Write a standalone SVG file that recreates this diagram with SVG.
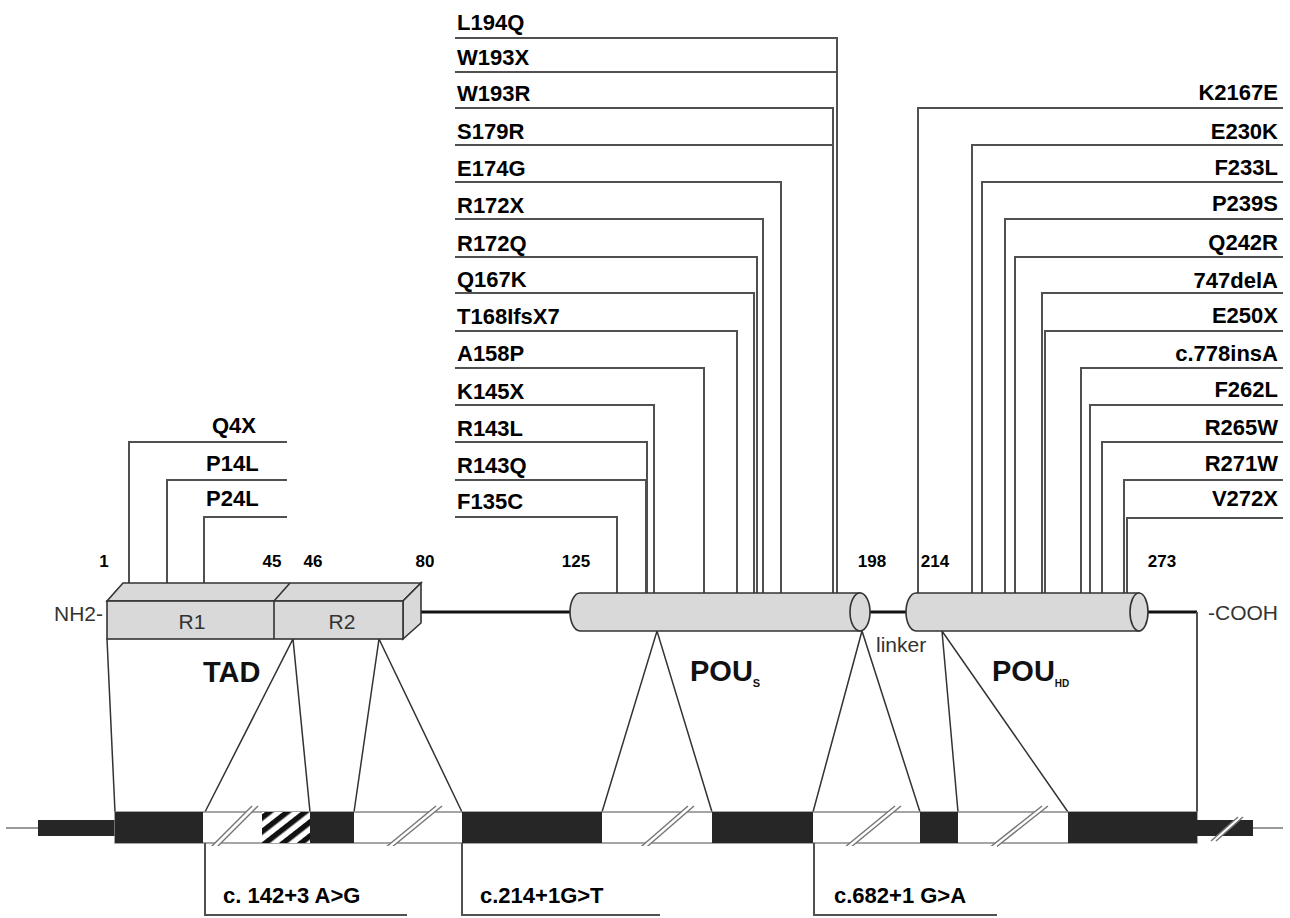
<svg xmlns="http://www.w3.org/2000/svg" width="1290" height="918" viewBox="0 0 1290 918">
<defs>
<style>
.lbl{font-family:"Liberation Sans",Arial,sans-serif;font-weight:bold;font-size:22px;fill:#000}
.num{font-family:"Liberation Sans",Arial,sans-serif;font-weight:bold;font-size:17px;fill:#000}
.dom{font-family:"Liberation Sans",Arial,sans-serif;font-size:21px;fill:#333}
.big{font-family:"Liberation Sans",Arial,sans-serif;font-weight:bold;font-size:29px;fill:#111}
.conn{stroke:#505050;stroke-width:2;fill:none}
.map{stroke:#333;stroke-width:1.5;fill:none}
.shape{fill:#d9d9d9;stroke:#333;stroke-width:1.6}
.exon{fill:#262626}
.sl{stroke:#777;stroke-width:1.5}
.axis{stroke:#111;stroke-width:3;fill:none}
</style>
<pattern id="hatch" patternUnits="userSpaceOnUse" width="11" height="11" patternTransform="rotate(-38)">
<rect width="11" height="11" fill="#fff"/>
<rect width="11" height="5.5" fill="#111"/>
</pattern>
</defs>
<rect width="1290" height="918" fill="#fff"/>

<g id="connectors">
<!-- left group -->
<path class="conn" d="M287,442 H129 V592"/>
<path class="conn" d="M287,480 H167 V590"/>
<path class="conn" d="M287,517 H204 V590"/>
<!-- middle group -->
<path class="conn" d="M455,38 H837 V593"/>
<path class="conn" d="M455,72 H837 V593"/>
<path class="conn" d="M455,108 H833 V593"/>
<path class="conn" d="M455,145 H833 V593"/>
<path class="conn" d="M455,182 H781 V593"/>
<path class="conn" d="M455,219 H763 V593"/>
<path class="conn" d="M455,257 H757 V593"/>
<path class="conn" d="M455,293 H754 V593"/>
<path class="conn" d="M455,331 H737 V593"/>
<path class="conn" d="M455,368 H704 V593"/>
<path class="conn" d="M455,405 H654 V593"/>
<path class="conn" d="M455,442 H647 V593"/>
<path class="conn" d="M455,480 H646 V593"/>
<path class="conn" d="M455,517 H617 V593"/>
<!-- right group -->
<path class="conn" d="M1283,108 H918 V593"/>
<path class="conn" d="M1283,145 H972 V593"/>
<path class="conn" d="M1283,182 H982 V593"/>
<path class="conn" d="M1283,219 H1005 V593"/>
<path class="conn" d="M1283,257 H1015 V593"/>
<path class="conn" d="M1283,293 H1042 V593"/>
<path class="conn" d="M1283,331 H1045 V593"/>
<path class="conn" d="M1283,368 H1081 V593"/>
<path class="conn" d="M1283,405 H1090 V593"/>
<path class="conn" d="M1283,442 H1102 V593"/>
<path class="conn" d="M1283,480 H1124 V593"/>
<path class="conn" d="M1283,518 H1127 V593"/>
<!-- backbone -->
<path class="axis" d="M412,612 H574"/>
<path class="axis" d="M862,612 H908"/>
<path class="axis" d="M1141,612 H1197"/>
<path class="conn" d="M1197,612 V812"/>
<!-- mapping to gene -->
<path class="map" d="M107,639 L115,812"/>
<path class="map" d="M205,812 L293,639 L310,812"/>
<path class="map" d="M354,812 L379,639 L462,812"/>
<path class="map" d="M602,812 L657,631 L712,812"/>
<path class="map" d="M813,812 L862,631 L920,812"/>
<path class="map" d="M958,812 L942,631 L1068,812"/>
</g>

<g id="tad-domain">
<polygon class="shape" points="107,601 123,583 421,583 403,601"/>
<polygon class="shape" points="403,601 421,583 421,623 403,639"/>
<rect class="shape" x="107" y="601" width="296" height="38"/>
<line x1="274" y1="601" x2="274" y2="639" stroke="#333" stroke-width="1.6"/>
<line x1="274" y1="601" x2="290" y2="583" stroke="#333" stroke-width="1.6"/>
<text class="dom" x="192" y="629" text-anchor="middle">R1</text>
<text class="dom" x="342" y="629" text-anchor="middle">R2</text>
<text class="big" x="203" y="682">TAD</text>
</g>

<g id="pous-domain">
<path class="shape" d="M860,593 H580 A10,19 0 0 0 580,631 H860 Z"/>
<ellipse class="shape" cx="860" cy="612" rx="10" ry="19"/>
<text class="big" x="690" y="681">POU<tspan font-size="11" dy="6">S</tspan></text>
</g>

<g id="pouhd-domain">
<path class="shape" d="M1139,593 H916 A10,19 0 0 0 916,631 H1139 Z"/>
<ellipse class="shape" cx="1139" cy="612" rx="9" ry="19"/>
<text class="big" x="992" y="681">POU<tspan font-size="10" dy="6">HD</tspan></text>
</g>

<g id="termini">
<text class="dom" x="103" y="621" font-size="20" text-anchor="end">NH2-</text>
<text class="dom" x="1208" y="620" font-size="20">-COOH</text>
<text class="dom" x="876" y="652" font-size="19" fill="#444">linker</text>
</g>

<g id="positions">
<text class="num" x="104" y="567" text-anchor="middle">1</text>
<text class="num" x="272" y="567" text-anchor="middle">45</text>
<text class="num" x="313" y="567" text-anchor="middle">46</text>
<text class="num" x="425" y="567" text-anchor="middle">80</text>
<text class="num" x="576" y="567" text-anchor="middle">125</text>
<text class="num" x="872" y="567" text-anchor="middle">198</text>
<text class="num" x="935" y="567" text-anchor="middle">214</text>
<text class="num" x="1162" y="567" text-anchor="middle">273</text>
</g>

<g id="labels-left">
<text class="lbl" x="212" y="433">Q4X</text>
<text class="lbl" x="206" y="471">P14L</text>
<text class="lbl" x="206" y="506">P24L</text>
</g>

<g id="labels-middle">
<text class="lbl" x="457" y="30">L194Q</text>
<text class="lbl" x="457" y="65">W193X</text>
<text class="lbl" x="457" y="101">W193R</text>
<text class="lbl" x="457" y="139">S179R</text>
<text class="lbl" x="457" y="176">E174G</text>
<text class="lbl" x="457" y="213">R172X</text>
<text class="lbl" x="457" y="251">R172Q</text>
<text class="lbl" x="457" y="287">Q167K</text>
<text class="lbl" x="457" y="324">T168IfsX7</text>
<text class="lbl" x="457" y="361">A158P</text>
<text class="lbl" x="457" y="399">K145X</text>
<text class="lbl" x="457" y="436">R143L</text>
<text class="lbl" x="457" y="473">R143Q</text>
<text class="lbl" x="457" y="509">F135C</text>
</g>

<g id="labels-right" text-anchor="end">
<text class="lbl" x="1278" y="100">K2167E</text>
<text class="lbl" x="1278" y="139">E230K</text>
<text class="lbl" x="1278" y="175">F233L</text>
<text class="lbl" x="1278" y="211">P239S</text>
<text class="lbl" x="1278" y="250">Q242R</text>
<text class="lbl" x="1278" y="288">747delA</text>
<text class="lbl" x="1278" y="323">E250X</text>
<text class="lbl" x="1278" y="361">c.778insA</text>
<text class="lbl" x="1278" y="397">F262L</text>
<text class="lbl" x="1278" y="435">R265W</text>
<text class="lbl" x="1278" y="471">R271W</text>
<text class="lbl" x="1278" y="506">V272X</text>
</g>

<g id="gene">
<line x1="6" y1="828" x2="38" y2="828" stroke="#777" stroke-width="1.5"/>
<rect class="exon" x="38" y="820" width="77" height="16"/>
<rect x="115" y="812" width="1082" height="31" fill="#fff" stroke="#888" stroke-width="1.5"/>
<rect class="exon" x="115" y="812" width="88" height="31"/>
<rect x="262" y="812" width="48" height="31" fill="url(#hatch)"/>
<rect class="exon" x="310" y="812" width="44" height="31"/>
<rect class="exon" x="462" y="812" width="140" height="31"/>
<rect class="exon" x="712" y="812" width="101" height="31"/>
<rect class="exon" x="920" y="812" width="38" height="31"/>
<rect class="exon" x="1068" y="812" width="129" height="31"/>
<rect class="exon" x="1197" y="820" width="56" height="16"/>
<line x1="1253" y1="828" x2="1283" y2="828" stroke="#777" stroke-width="1.5"/>
</g>

<g id="breaks">
<polygon points="208,850 214,850 258,806 252,806" fill="#fff"/>
<line class="sl" x1="208" y1="850" x2="252" y2="806"/><line class="sl" x1="214" y1="850" x2="258" y2="806"/>
<polygon points="380,852 386,852 442,806 436,806" fill="#fff"/>
<line class="sl" x1="380" y1="852" x2="436" y2="806"/><line class="sl" x1="386" y1="852" x2="442" y2="806"/>
<polygon points="635,852 641,852 694,806 688,806" fill="#fff"/>
<line class="sl" x1="635" y1="852" x2="688" y2="806"/><line class="sl" x1="641" y1="852" x2="694" y2="806"/>
<polygon points="839,852 845,852 901,806 895,806" fill="#fff"/>
<line class="sl" x1="839" y1="852" x2="895" y2="806"/><line class="sl" x1="845" y1="852" x2="901" y2="806"/>
<polygon points="984,852 990,852 1048,806 1042,806" fill="#fff"/>
<line class="sl" x1="984" y1="852" x2="1042" y2="806"/><line class="sl" x1="990" y1="852" x2="1048" y2="806"/>
<polygon points="1211,841 1216,841 1243,817 1238,817" fill="#fff"/>
<line class="sl" x1="1211" y1="841" x2="1238" y2="817"/><line class="sl" x1="1216" y1="841" x2="1243" y2="817"/>
</g>

<g id="splice-c142">
<rect x="206" y="846" width="201" height="68" fill="#fff"/>
<path class="conn" d="M205,843 V915 H407"/>
<text class="lbl" x="223" y="903">c. 142+3 A&gt;G</text>
</g>
<g id="splice-c214">
<rect x="463" y="846" width="197" height="68" fill="#fff"/>
<path class="conn" d="M462,843 V915 H660"/>
<text class="lbl" x="480" y="903">c.214+1G&gt;T</text>
</g>
<g id="splice-c682">
<rect x="815" y="846" width="182" height="68" fill="#fff"/>
<path class="conn" d="M814,843 V915 H997"/>
<text class="lbl" x="834" y="903">c.682+1 G&gt;A</text>
</g>
</svg>
